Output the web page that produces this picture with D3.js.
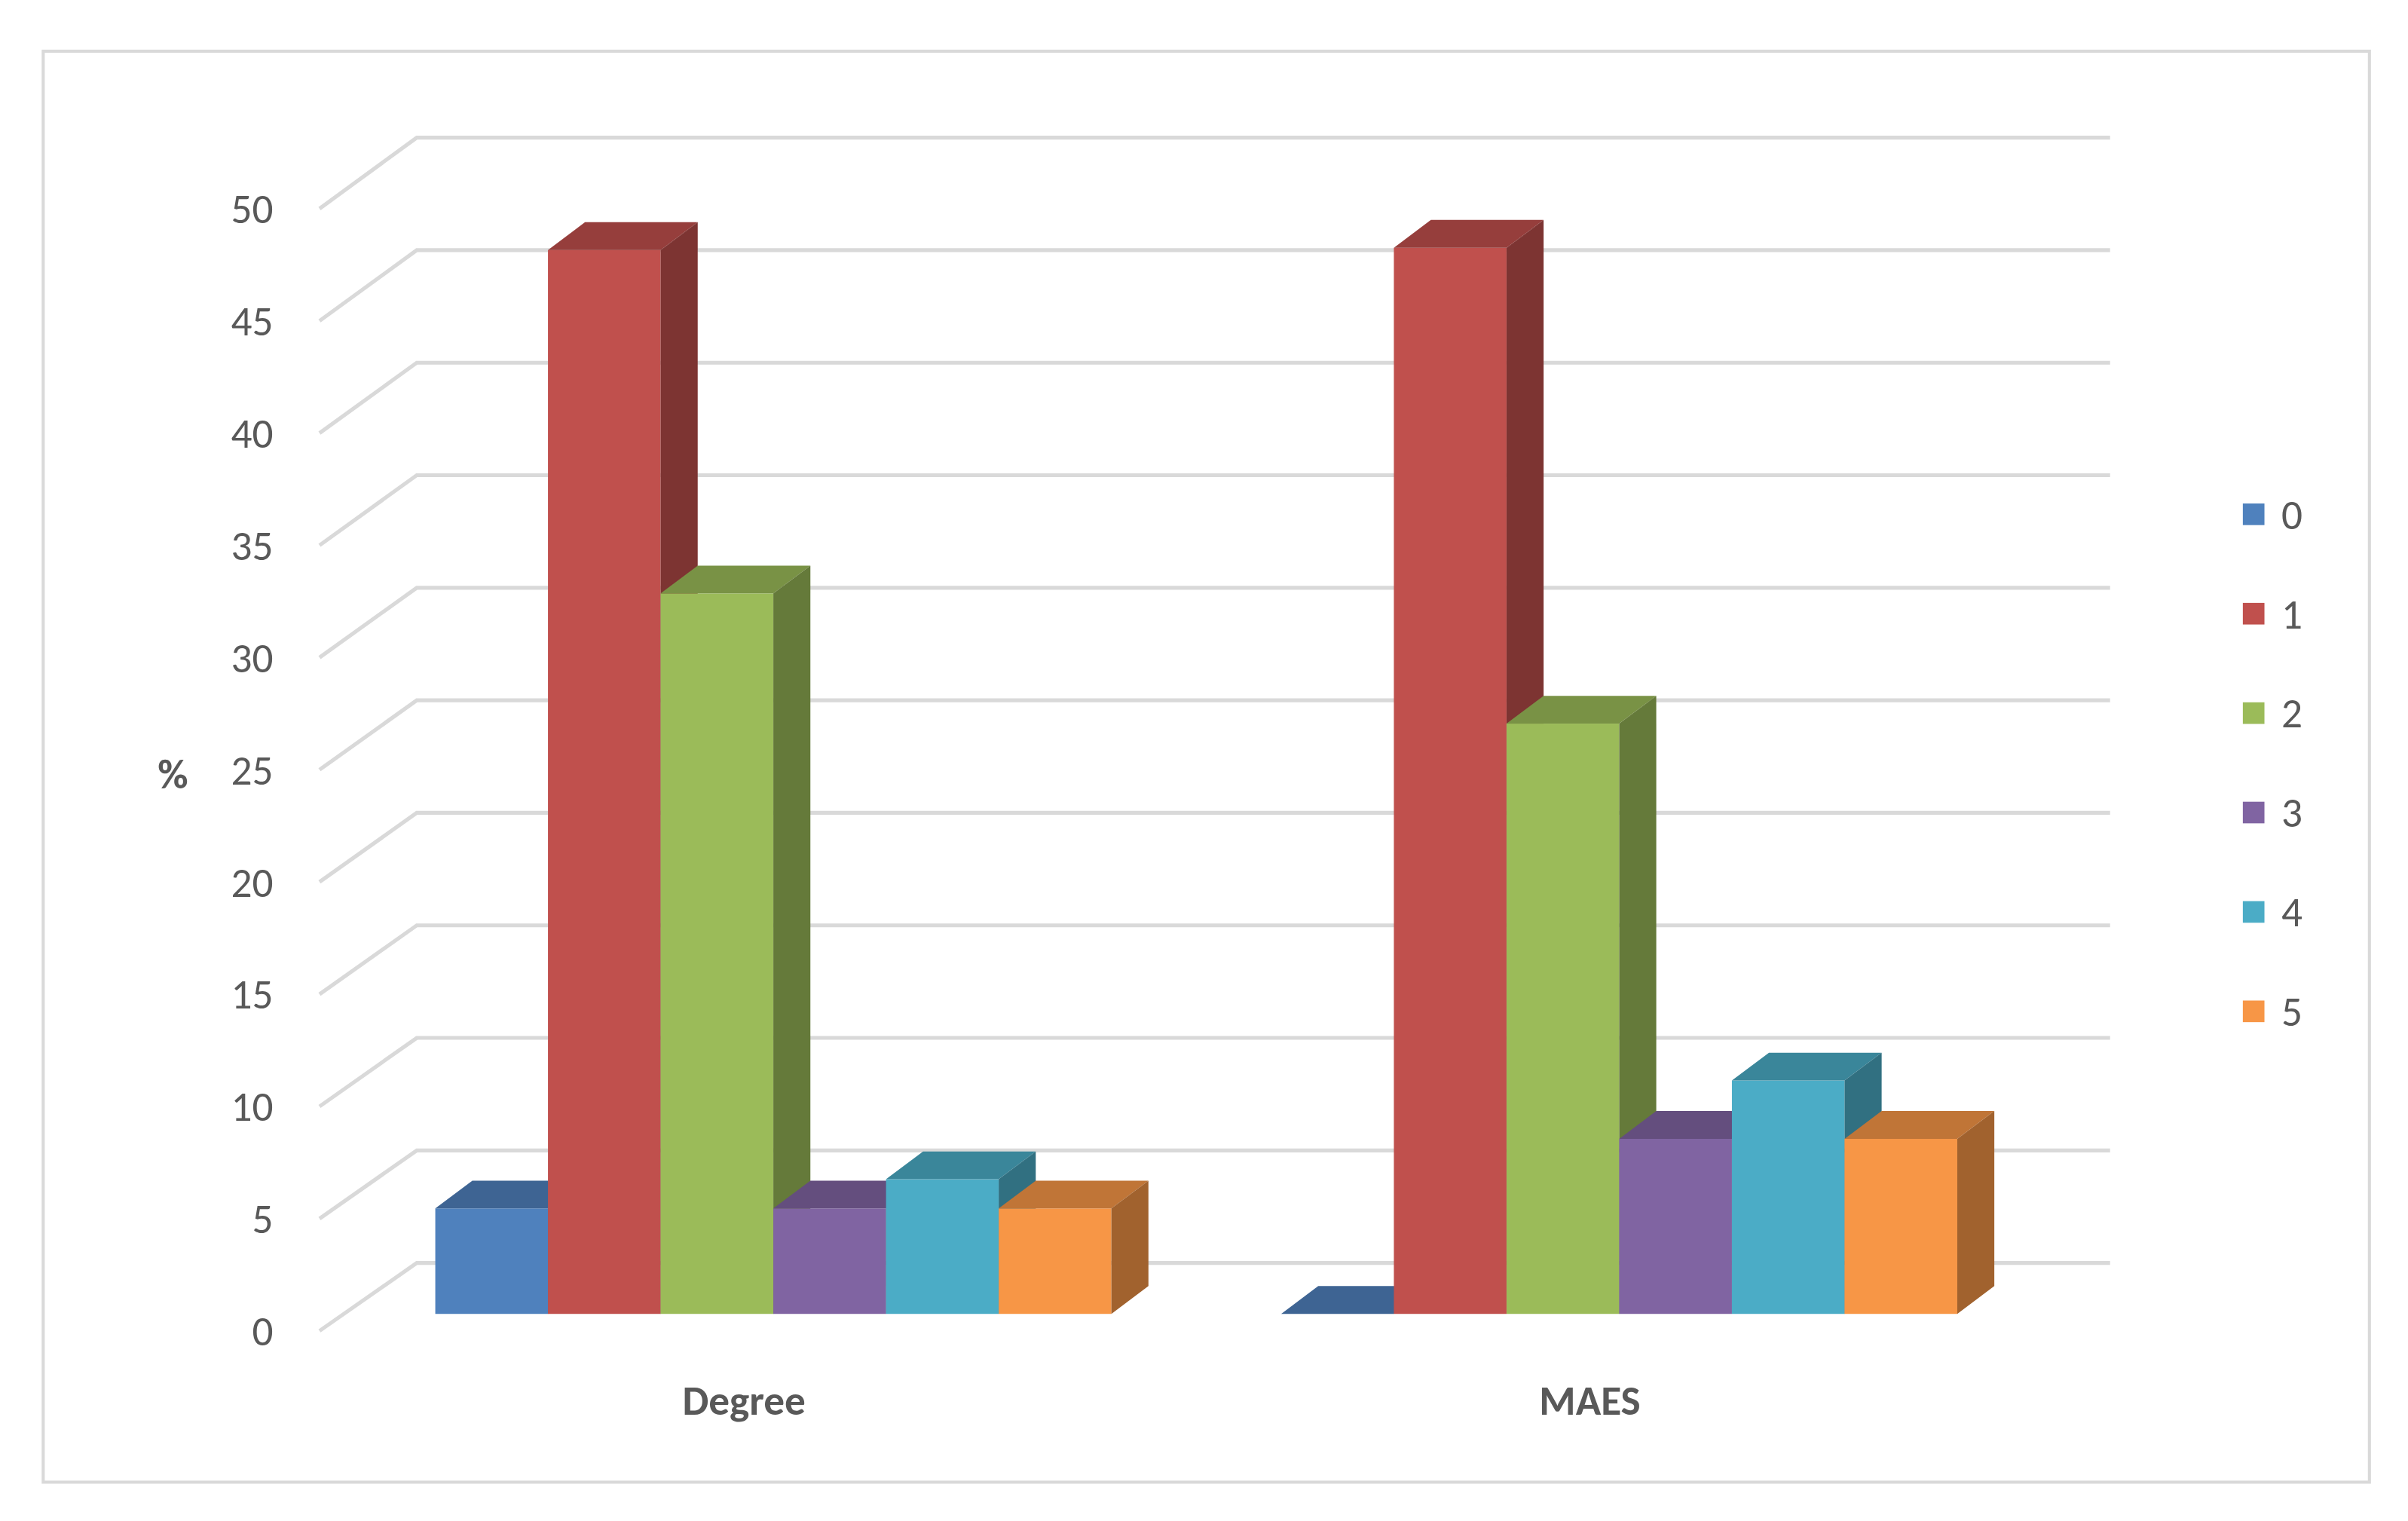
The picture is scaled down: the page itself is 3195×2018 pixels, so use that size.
<!DOCTYPE html>
<html><head><meta charset="utf-8">
<script src="https://cdn.jsdelivr.net/npm/d3@7"></script>
<style>body{margin:0;background:#fff}text{font-family:Calibri,Carlito,"Liberation Sans",sans-serif;fill:#595959}</style>
</head><body><svg id="chart"></svg>
<script>
// data
const categories = ["Degree", "MAES"];
const series = ["0", "1", "2", "3", "4", "5"];
const values = {
  Degree: [4.7, 47.4, 32.1, 4.7, 6.0, 4.7],
  MAES: [0, 47.5, 26.3, 7.8, 10.4, 7.8]
};
const yTicks = [0, 5, 10, 15, 20, 25, 30, 35, 40, 45, 50];
const colors = ["#4F81BD", "#C0504D", "#9BBB59", "#8064A2", "#4BACC6", "#F79646"];

const W = 1560, H = 985;
const svg = d3.select("#chart").attr("width", 3195).attr("height", 2018)
  .attr("viewBox", `0 0 ${W} ${H}`);

svg.append("rect").attr("x", 28).attr("y", 33).attr("width", 1507).attr("height", 927)
  .attr("fill", "#fff").attr("stroke", "#d9d9d9").attr("stroke-width", 2);

// scales: front plane (labels), bar plane, back wall
const yFront = d3.scaleLinear().domain([0, 50]).range([862, 135]);
const yBar = d3.scaleLinear().domain([0, 50]).range([851, 124]);
const yBack = d3.scaleLinear().domain([0, 50]).range([818, 89]);
const xCat = d3.scaleBand().domain(categories).range([208, 1304]);
const xSer = d3.scaleBand().domain(series).range([0, 438]);
const depthX = 63, depthY = -44, bdx = 24, bdy = -18;

// gridlines
const grid = svg.append("g").attr("stroke", "#d9d9d9").attr("stroke-width", 2.5).attr("fill", "none");
yTicks.forEach(t => {
  grid.append("path").attr("d",
    `M207,${yFront(t)}L${207 + depthX},${yBack(t)}L1367,${yBack(t)}`);
});

// y tick labels
svg.append("g").selectAll("text").data(yTicks).enter().append("text")
  .attr("x", 177).attr("y", d => yFront(d)).attr("dy", "0.35em")
  .attr("text-anchor", "end").attr("font-size", 27).text(d => d);
svg.append("text").attr("x", 112).attr("y", 501).attr("dy", "0.35em")
  .attr("text-anchor", "middle").attr("font-size", 27).attr("font-weight", "bold").text("%");

// bars
const bars = svg.append("g");
categories.forEach(c => {
  series.forEach((s, i) => {
    const v = values[c][i];
    const x0 = xCat(c) + 74 + xSer(s), x1 = x0 + xSer.bandwidth();
    const yt = yBar(v), yb = yBar(0);
    const col = d3.color(colors[i]);
    if (v > 0) bars.append("rect").attr("x", x0).attr("y", yt).attr("width", x1 - x0)
      .attr("height", yb - yt).attr("fill", colors[i]);
    bars.append("path").attr("d",
      `M${x0},${yt}L${x0 + bdx},${yt + bdy}L${x1 + bdx},${yt + bdy}L${x1},${yt}Z`)
      .attr("fill", col.darker(0.7));
    if (v > 0) bars.append("path").attr("d",
      `M${x1},${yt}L${x1 + bdx},${yt + bdy}L${x1 + bdx},${yb + bdy}L${x1},${yb}Z`)
      .attr("fill", col.darker(1.2));
  });
});

// category labels
svg.append("g").selectAll("text").data(categories).enter().append("text")
  .attr("x", d => xCat(d) + xCat.bandwidth() / 2).attr("y", 907).attr("dy", "0.35em")
  .attr("text-anchor", "middle").attr("font-size", 27).attr("font-weight", "bold").text(d => d);

// legend
const leg = svg.append("g").selectAll("g").data(series).enter().append("g")
  .attr("transform", (d, i) => `translate(1453,${333 + i * 64.4})`);
leg.append("rect").attr("x", 0).attr("y", -7).attr("width", 14).attr("height", 14)
  .attr("fill", (d, i) => colors[i]);
leg.append("text").attr("x", 25).attr("y", 0).attr("dy", "0.35em")
  .attr("font-size", 27).text(d => d);
</script></body></html>
